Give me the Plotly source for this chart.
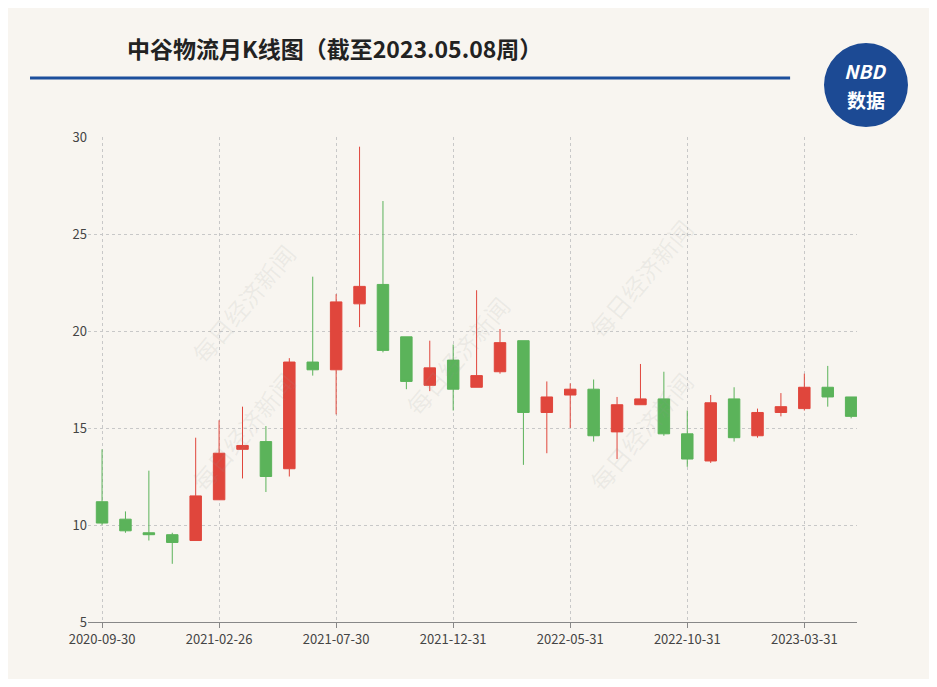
import plotly.graph_objects as go

# monthly candles, 2020-09 .. 2023-05
months = ["2020-09-30", "2020-10-30", "2020-11-30", "2020-12-31", "2021-01-29", "2021-02-26",
          "2021-03-31", "2021-04-30", "2021-05-31", "2021-06-30", "2021-07-30", "2021-08-31",
          "2021-09-30", "2021-10-29", "2021-11-30", "2021-12-31", "2022-01-28", "2022-02-28",
          "2022-03-31", "2022-04-29", "2022-05-31", "2022-06-30", "2022-07-29", "2022-08-31",
          "2022-09-30", "2022-10-31", "2022-11-30", "2022-12-30", "2023-01-31", "2023-02-28",
          "2023-03-31", "2023-04-28", "2023-05-08"]
opens = [11.2, 10.3, 9.6, 9.5, 9.2, 11.3, 13.9, 14.3, 12.9, 18.4, 18.0, 21.4,
         22.4, 19.7, 17.2, 18.5, 17.1, 17.9, 19.5, 15.8, 16.7, 17.0, 14.8, 16.2,
         16.5, 14.7, 13.3, 16.5, 14.6, 15.8, 16.0, 17.1, 16.6]
closes = [10.1, 9.7, 9.5, 9.1, 11.5, 13.7, 14.1, 12.5, 18.4, 18.0, 21.5, 22.3,
          19.0, 17.4, 18.1, 17.0, 17.7, 19.4, 15.8, 16.6, 17.0, 14.6, 16.2, 16.5,
          14.7, 13.4, 16.3, 14.5, 15.8, 16.1, 17.1, 16.6, 15.6]
highs = [13.9, 10.7, 12.8, 9.6, 14.5, 15.4, 16.1, 15.1, 18.6, 22.8, 21.9, 29.5,
         26.7, 19.7, 19.5, 19.3, 22.1, 20.1, 19.5, 17.4, 17.3, 17.5, 16.6, 18.3,
         17.9, 15.9, 16.7, 17.1, 16.0, 16.8, 17.8, 18.2, 16.6]
lows = [10.0, 9.6, 9.2, 8.0, 9.2, 11.3, 12.4, 11.7, 12.5, 17.7, 15.7, 20.2,
        18.9, 17.0, 16.9, 15.9, 17.1, 17.8, 13.1, 13.7, 15.0, 14.3, 13.4, 16.2,
        14.6, 13.0, 13.2, 14.3, 14.5, 15.6, 15.9, 16.1, 15.5]
tick_idx = [0, 5, 10, 15, 20, 25, 30]

fig = go.Figure(go.Candlestick(
    x=list(range(len(months))), open=opens, close=closes, high=highs, low=lows,
    increasing=dict(line=dict(color="#e0463c", width=1), fillcolor="#e0463c"),
    decreasing=dict(line=dict(color="#5bb35a", width=1), fillcolor="#5bb35a"),
    whiskerwidth=0, showlegend=False,
))

bg = "#f8f5f0"
fig.update_layout(
    width=921, height=671, paper_bgcolor=bg, plot_bgcolor=bg,
    margin=dict(l=80, r=72, t=129, b=57),
    font=dict(family="Noto Sans CJK SC", color="#555"),
    xaxis=dict(rangeslider=dict(visible=False), range=[-0.6, 32.25],
               tickvals=tick_idx, ticktext=[months[i] for i in tick_idx],
               showgrid=True, gridcolor="#c8c8c8", griddash="dot", zeroline=False,
               showline=True, linecolor="#888", ticks="outside", ticklen=5,
               tickcolor="#888", tickfont=dict(size=13, color="#444")),
    yaxis=dict(range=[5, 30], dtick=5, showgrid=True, gridcolor="#c8c8c8",
               griddash="dot", zeroline=False, tickfont=dict(size=13, color="#444")),
    shapes=[
        dict(type="line", xref="paper", yref="paper", x0=-0.0754, x1=0.913,
             y0=1.1216, y1=1.1216, line=dict(color="#1d4f9c", width=3)),
        dict(type="circle", xref="paper", yref="paper", x0=1.0117 - 0.0546, x1=1.0117 + 0.0546,
             y0=1.107 - 0.0866, y1=1.107 + 0.0866, fillcolor="#1c4a94", line=dict(width=0)),
    ],
    annotations=[
        dict(text="<b>中谷物流月K线图（截至2023.05.08周）</b>", xref="paper", yref="paper",
             x=0.048, y=1.1835, xanchor="left", yanchor="middle", showarrow=False,
             font=dict(size=23, color="#222")),
        dict(text="<b><i>NBD</i></b>", xref="paper", yref="paper", x=1.0117, y=1.137,
             xanchor="center", yanchor="middle", showarrow=False,
             font=dict(size=19, color="white")),
        dict(text="<b>数据</b>", xref="paper", yref="paper", x=1.0117, y=1.078,
             xanchor="center", yanchor="middle", showarrow=False,
             font=dict(size=19, color="white")),
    ],
)
for wx, wy in [(0.12, 0.8), (0.12, 0.25), (0.48, 0.55), (0.8, 0.85), (0.8, 0.25)]:
    fig.add_annotation(text="每日经济新闻", xref="paper", yref="paper", x=wx, y=wy,
                       textangle=-50, showarrow=False,
                       font=dict(size=24, color="rgba(150,150,150,0.12)"))

fig.write_html("out.html")
